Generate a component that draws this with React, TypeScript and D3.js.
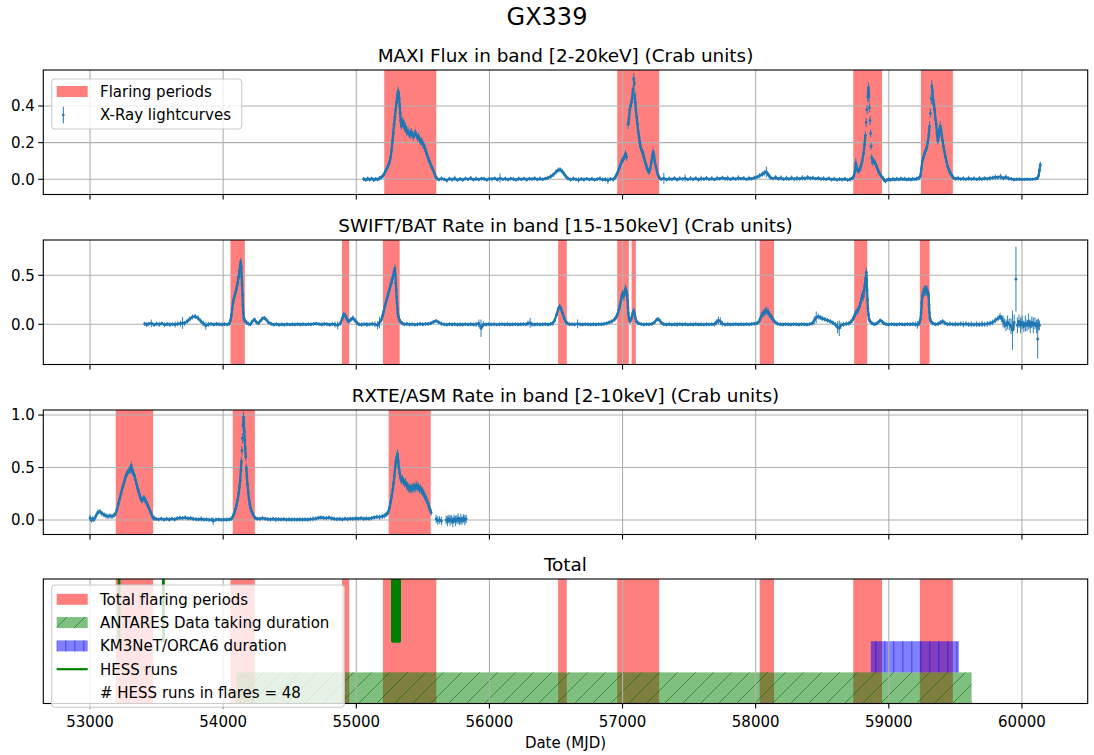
import React from "react";
import * as d3 from "d3";

// [MJD, value, error] samples of each X-ray light curve (Crab units)
type Pt = [number, number, number];
type Span = [number, number];

const MAXI: Pt[] = [
  [55055, 0.002, 0.01], [55070, -0.004, 0.01], [55085, 0.003, 0.012], [55100, -0.002, 0.01], [55115, 0.004, 0.01],
  [55130, -0.003, 0.012], [55145, 0.002, 0.01], [55160, -0.001, 0.01], [55175, 0.006, 0.012], [55190, 0.012, 0.012],
  [55200, 0.018, 0.012], [55210, 0.03, 0.012], [55220, 0.045, 0.014], [55230, 0.06, 0.014], [55240, 0.075, 0.015],
  [55250, 0.095, 0.015], [55258, 0.12, 0.016], [55265, 0.16, 0.018], [55272, 0.21, 0.02], [55278, 0.25, 0.02],
  [55284, 0.3, 0.02], [55290, 0.34, 0.022], [55296, 0.38, 0.022], [55302, 0.42, 0.025], [55308, 0.455, 0.025],
  [55314, 0.48, 0.025], [55318, 0.47, 0.025], [55322, 0.44, 0.025], [55326, 0.4, 0.022], [55330, 0.36, 0.022],
  [55334, 0.32, 0.022], [55338, 0.29, 0.02], [55344, 0.3, 0.02], [55350, 0.32, 0.02], [55356, 0.305, 0.02],
  [55362, 0.28, 0.02], [55368, 0.29, 0.02], [55374, 0.27, 0.02], [55380, 0.255, 0.02], [55388, 0.265, 0.02],
  [55396, 0.25, 0.02], [55404, 0.24, 0.02], [55412, 0.26, 0.02], [55420, 0.245, 0.02], [55428, 0.23, 0.02],
  [55436, 0.245, 0.02], [55444, 0.255, 0.02], [55452, 0.24, 0.02], [55460, 0.225, 0.02], [55468, 0.235, 0.02],
  [55476, 0.215, 0.02], [55484, 0.205, 0.02], [55492, 0.21, 0.02], [55500, 0.19, 0.02], [55508, 0.185, 0.018],
  [55516, 0.17, 0.018], [55524, 0.15, 0.018], [55532, 0.135, 0.018], [55540, 0.115, 0.016], [55548, 0.1, 0.016],
  [55556, 0.085, 0.016], [55564, 0.07, 0.015], [55572, 0.06, 0.015], [55580, 0.045, 0.014], [55588, 0.03, 0.013],
  [55596, 0.015, 0.012], [55605, 0.005, 0.012], [55620, -0.002, 0.01], [55640, 0.004, 0.012], [55660, 0.0, 0.01],
  [55680, -0.006, 0.012], [55700, 0.003, 0.01], [55720, -0.002, 0.012], [55740, 0.005, 0.015], [55760, -0.004, 0.01],
  [55780, 0.002, 0.01], [55800, -0.003, 0.012], [55820, 0.004, 0.01], [55840, 0.0, 0.01], [55860, 0.006, 0.012],
  [55880, -0.002, 0.01], [55900, 0.003, 0.012], [55920, -0.001, 0.01], [55940, 0.004, 0.01], [55960, 0.002, 0.012],
  [55980, -0.003, 0.01], [56000, 0.003, 0.01], [56020, 0.001, 0.012], [56040, 0.005, 0.01], [56060, -0.002, 0.012],
  [56080, 0.006, 0.025], [56100, 0.0, 0.01], [56120, 0.003, 0.012], [56140, -0.002, 0.01], [56160, 0.004, 0.01],
  [56180, 0.001, 0.012], [56200, -0.003, 0.01], [56220, 0.003, 0.012], [56240, 0.0, 0.01], [56260, 0.004, 0.01],
  [56280, -0.002, 0.012], [56300, 0.003, 0.01], [56320, 0.001, 0.01], [56340, 0.005, 0.012], [56360, -0.001, 0.01],
  [56380, 0.003, 0.012], [56400, 0.0, 0.01], [56420, 0.004, 0.01], [56440, 0.008, 0.012], [56460, 0.015, 0.012],
  [56480, 0.025, 0.012], [56500, 0.04, 0.014], [56515, 0.05, 0.014], [56530, 0.052, 0.014], [56545, 0.045, 0.014],
  [56560, 0.03, 0.012], [56575, 0.015, 0.012], [56590, 0.005, 0.01], [56610, -0.002, 0.01], [56630, 0.003, 0.012],
  [56650, 0.0, 0.01], [56670, -0.004, 0.015], [56690, 0.002, 0.01], [56710, -0.002, 0.012], [56730, 0.003, 0.01],
  [56750, -0.001, 0.01], [56770, 0.002, 0.012], [56790, -0.003, 0.01], [56810, 0.001, 0.01], [56830, 0.004, 0.012],
  [56850, -0.002, 0.01], [56870, 0.0, 0.012], [56890, -0.006, 0.018], [56910, 0.002, 0.01], [56930, -0.001, 0.012],
  [56945, 0.01, 0.012], [56955, 0.025, 0.014], [56965, 0.04, 0.015], [56975, 0.06, 0.016], [56985, 0.08, 0.016],
  [56995, 0.1, 0.018], [57005, 0.11, 0.018], [57015, 0.125, 0.018], [57022, 0.14, 0.02], [57030, 0.12, 0.02],
  [57042, 0.3, 0.025], [57048, 0.33, 0.025], [57054, 0.38, 0.025], [57060, 0.4, 0.025], [57066, 0.42, 0.025],
  [57072, 0.44, 0.025], [57078, 0.49, 0.025], [57084, 0.55, 0.03], [57088, 0.52, 0.03], [57092, 0.46, 0.025],
  [57096, 0.42, 0.025], [57100, 0.38, 0.025], [57106, 0.34, 0.022], [57112, 0.3, 0.022], [57118, 0.26, 0.02],
  [57124, 0.23, 0.02], [57130, 0.2, 0.02], [57136, 0.175, 0.02], [57142, 0.16, 0.018], [57148, 0.15, 0.018],
  [57154, 0.14, 0.018], [57160, 0.12, 0.018], [57168, 0.1, 0.016], [57176, 0.08, 0.016], [57184, 0.06, 0.015],
  [57192, 0.045, 0.015], [57200, 0.04, 0.015], [57208, 0.06, 0.015], [57216, 0.09, 0.016], [57224, 0.13, 0.018],
  [57230, 0.15, 0.018], [57236, 0.13, 0.018], [57242, 0.1, 0.016], [57250, 0.07, 0.015], [57258, 0.045, 0.014],
  [57266, 0.025, 0.012], [57275, 0.01, 0.012], [57290, 0.0, 0.01], [57310, 0.006, 0.03], [57330, -0.002, 0.01],
  [57350, 0.003, 0.012], [57370, 0.0, 0.01], [57390, 0.005, 0.012], [57410, -0.002, 0.01], [57430, 0.004, 0.012],
  [57450, 0.001, 0.01], [57470, 0.006, 0.02], [57490, -0.001, 0.01], [57510, 0.004, 0.012], [57530, 0.0, 0.01],
  [57550, 0.005, 0.012], [57570, -0.002, 0.01], [57590, 0.004, 0.015], [57610, 0.001, 0.01], [57630, 0.006, 0.012],
  [57650, 0.0, 0.01], [57670, 0.004, 0.012], [57690, -0.001, 0.01], [57710, 0.005, 0.015], [57730, 0.002, 0.01],
  [57750, 0.008, 0.012], [57770, 0.002, 0.01], [57790, 0.006, 0.015], [57810, 0.0, 0.01], [57830, 0.005, 0.012],
  [57850, 0.001, 0.01], [57870, 0.007, 0.015], [57890, 0.002, 0.01], [57910, 0.006, 0.012], [57930, 0.0, 0.01],
  [57950, 0.005, 0.015], [57970, 0.003, 0.01], [57990, 0.008, 0.012], [58010, 0.012, 0.012], [58030, 0.02, 0.014],
  [58050, 0.028, 0.014], [58065, 0.035, 0.016], [58080, 0.04, 0.03], [58095, 0.025, 0.014], [58110, 0.01, 0.012],
  [58130, 0.004, 0.01], [58150, 0.01, 0.014], [58170, 0.002, 0.01], [58190, 0.008, 0.014], [58210, 0.0, 0.01],
  [58230, 0.006, 0.014], [58250, 0.001, 0.01], [58270, 0.007, 0.014], [58290, 0.001, 0.01], [58310, 0.006, 0.014],
  [58330, 0.002, 0.01], [58350, 0.008, 0.014], [58370, 0.004, 0.012], [58390, 0.01, 0.014], [58410, 0.005, 0.012],
  [58430, 0.008, 0.012], [58450, 0.003, 0.01], [58470, 0.006, 0.012], [58490, 0.001, 0.01], [58510, 0.004, 0.012],
  [58530, 0.0, 0.01], [58550, 0.005, 0.012], [58570, -0.002, 0.01], [58590, 0.002, 0.012], [58610, -0.003, 0.01],
  [58630, 0.001, 0.012], [58650, -0.002, 0.01], [58670, 0.002, 0.012], [58690, -0.004, 0.01], [58710, 0.0, 0.012],
  [58725, 0.005, 0.012], [58735, 0.015, 0.014], [58745, 0.04, 0.02], [58752, 0.09, 0.025], [58760, 0.06, 0.02],
  [58770, 0.045, 0.016], [58780, 0.05, 0.016], [58790, 0.07, 0.018], [58800, 0.1, 0.02], [58810, 0.14, 0.02],
  [58818, 0.19, 0.022], [58824, 0.24, 0.022], [58830, 0.31, 0.025], [58836, 0.38, 0.025], [58842, 0.45, 0.03],
  [58847, 0.5, 0.03], [58851, 0.45, 0.03], [58855, 0.39, 0.025], [58859, 0.32, 0.025], [58863, 0.25, 0.022],
  [58867, 0.18, 0.02], [58872, 0.12, 0.018], [58878, 0.09, 0.016], [58885, 0.1, 0.016], [58892, 0.095, 0.016],
  [58900, 0.085, 0.016], [58908, 0.07, 0.015], [58916, 0.055, 0.014], [58924, 0.04, 0.014], [58932, 0.03, 0.012],
  [58942, 0.018, 0.012], [58955, 0.008, 0.012], [58965, -0.005, 0.012], [58975, -0.01, 0.012], [58985, -0.004, 0.01],
  [59000, 0.0, 0.012], [59015, -0.003, 0.01], [59030, 0.001, 0.012], [59045, -0.002, 0.01], [59060, 0.002, 0.012],
  [59075, -0.001, 0.01], [59090, 0.003, 0.012], [59105, 0.0, 0.01], [59120, 0.002, 0.012], [59135, -0.002, 0.01],
  [59150, 0.001, 0.012], [59165, -0.002, 0.01], [59180, 0.002, 0.012], [59195, 0.0, 0.01], [59210, 0.003, 0.012],
  [59225, 0.006, 0.012], [59238, 0.02, 0.014], [59245, 0.06, 0.016], [59252, 0.1, 0.018], [59260, 0.12, 0.018],
  [59268, 0.14, 0.02], [59276, 0.155, 0.02], [59284, 0.17, 0.02], [59292, 0.2, 0.022], [59300, 0.24, 0.022],
  [59306, 0.29, 0.025], [59312, 0.36, 0.025], [59318, 0.44, 0.03], [59323, 0.51, 0.03], [59328, 0.48, 0.03],
  [59333, 0.43, 0.028], [59338, 0.41, 0.028], [59344, 0.38, 0.025], [59350, 0.33, 0.025], [59356, 0.3, 0.025],
  [59362, 0.25, 0.022], [59368, 0.21, 0.022], [59374, 0.23, 0.022], [59380, 0.27, 0.022], [59386, 0.29, 0.025],
  [59392, 0.27, 0.022], [59398, 0.24, 0.022], [59404, 0.21, 0.022], [59410, 0.18, 0.02], [59418, 0.15, 0.02],
  [59426, 0.12, 0.018], [59434, 0.095, 0.016], [59442, 0.07, 0.016], [59450, 0.055, 0.015], [59458, 0.04, 0.014],
  [59466, 0.03, 0.012], [59474, 0.02, 0.012], [59484, 0.01, 0.012], [59500, 0.002, 0.01], [59520, 0.006, 0.014],
  [59540, 0.001, 0.01], [59560, 0.004, 0.012], [59580, 0.0, 0.01], [59600, 0.005, 0.014], [59620, 0.001, 0.01],
  [59640, 0.004, 0.012], [59660, 0.0, 0.01], [59680, 0.004, 0.014], [59700, 0.001, 0.01], [59720, 0.005, 0.012],
  [59740, 0.002, 0.01], [59760, 0.006, 0.014], [59780, 0.008, 0.012], [59800, 0.012, 0.014], [59820, 0.01, 0.012],
  [59840, 0.014, 0.016], [59860, 0.006, 0.012], [59880, 0.012, 0.014], [59900, 0.004, 0.012], [59920, 0.002, 0.01],
  [59940, -0.002, 0.01], [59960, 0.0, 0.01], [59980, 0.001, 0.01], [60000, -0.001, 0.008], [60020, 0.0, 0.008],
  [60040, 0.001, 0.008], [60060, 0.0, 0.008], [60080, 0.001, 0.008], [60100, 0.002, 0.008], [60115, 0.005, 0.01],
  [60125, 0.02, 0.012], [60132, 0.05, 0.014], [60138, 0.08, 0.016],
];

const SWIFT: Pt[] = [
  [53410, 0.005, 0.02], [53425, -0.005, 0.025], [53440, 0.004, 0.02], [53460, 0.01, 0.04], [53480, -0.005, 0.02],
  [53500, 0.005, 0.02], [53520, 0.0, 0.025], [53540, 0.008, 0.02], [53560, -0.004, 0.025], [53580, 0.003, 0.02],
  [53600, -0.003, 0.025], [53620, 0.002, 0.02], [53640, -0.002, 0.03], [53660, 0.004, 0.025], [53680, 0.006, 0.03],
  [53695, 0.015, 0.06], [53710, 0.01, 0.025], [53730, 0.03, 0.025], [53750, 0.055, 0.025], [53770, 0.075, 0.025],
  [53790, 0.08, 0.025], [53810, 0.065, 0.025], [53830, 0.035, 0.025], [53850, 0.01, 0.03], [53870, -0.015, 0.04],
  [53890, 0.0, 0.025], [53910, 0.004, 0.02], [53930, -0.002, 0.02], [53950, 0.003, 0.02], [53970, 0.0, 0.02],
  [53990, -0.002, 0.02], [54010, 0.002, 0.02], [54030, -0.001, 0.02], [54045, 0.004, 0.02], [54055, 0.04, 0.025],
  [54062, 0.09, 0.03], [54068, 0.16, 0.03], [54074, 0.22, 0.03], [54080, 0.26, 0.03], [54086, 0.29, 0.03],
  [54092, 0.32, 0.03], [54098, 0.35, 0.03], [54104, 0.39, 0.035], [54110, 0.43, 0.035], [54116, 0.48, 0.035],
  [54122, 0.54, 0.04], [54128, 0.6, 0.04], [54132, 0.64, 0.04], [54136, 0.58, 0.035], [54139, 0.49, 0.035],
  [54142, 0.4, 0.03], [54145, 0.3, 0.03], [54148, 0.2, 0.03], [54151, 0.12, 0.03], [54155, 0.06, 0.03],
  [54162, 0.04, 0.03], [54175, 0.02, 0.025], [54190, 0.005, 0.02], [54205, 0.0, 0.02], [54220, 0.03, 0.02],
  [54235, 0.05, 0.02], [54250, 0.02, 0.02], [54265, 0.01, 0.02], [54280, 0.035, 0.02], [54295, 0.06, 0.02],
  [54310, 0.065, 0.02], [54325, 0.045, 0.02], [54340, 0.02, 0.02], [54360, 0.005, 0.02], [54380, -0.004, 0.02],
  [54400, 0.002, 0.02], [54420, -0.006, 0.02], [54440, 0.0, 0.02], [54460, -0.004, 0.02], [54480, 0.001, 0.02],
  [54500, -0.003, 0.02], [54520, 0.0, 0.02], [54540, -0.002, 0.02], [54560, 0.002, 0.02], [54580, -0.002, 0.02],
  [54600, 0.001, 0.02], [54620, -0.003, 0.02], [54640, 0.002, 0.02], [54660, 0.0, 0.02], [54680, 0.004, 0.02],
  [54700, 0.006, 0.02], [54720, 0.002, 0.02], [54740, -0.002, 0.02], [54760, 0.003, 0.02], [54780, 0.001, 0.02],
  [54800, -0.004, 0.02], [54820, 0.002, 0.02], [54840, -0.002, 0.03], [54860, -0.01, 0.04], [54880, 0.01, 0.025],
  [54895, 0.06, 0.025], [54905, 0.1, 0.025], [54915, 0.095, 0.025], [54925, 0.07, 0.025], [54935, 0.04, 0.025],
  [54945, 0.03, 0.025], [54960, 0.05, 0.025], [54975, 0.065, 0.025], [54990, 0.04, 0.025], [55005, 0.015, 0.025],
  [55020, 0.0, 0.02], [55040, -0.003, 0.025], [55060, 0.002, 0.02], [55080, -0.002, 0.025], [55100, 0.0, 0.02],
  [55120, 0.004, 0.025], [55140, 0.0, 0.03], [55160, -0.01, 0.04], [55175, 0.02, 0.06], [55190, 0.05, 0.03],
  [55198, 0.09, 0.03], [55206, 0.13, 0.03], [55214, 0.18, 0.03], [55222, 0.22, 0.035], [55230, 0.26, 0.035],
  [55238, 0.3, 0.035], [55246, 0.34, 0.035], [55254, 0.38, 0.035], [55262, 0.42, 0.04], [55270, 0.46, 0.04],
  [55278, 0.5, 0.04], [55285, 0.54, 0.04], [55290, 0.57, 0.04], [55294, 0.5, 0.035], [55297, 0.42, 0.035],
  [55300, 0.35, 0.035], [55303, 0.28, 0.03], [55306, 0.22, 0.03], [55309, 0.16, 0.03], [55312, 0.11, 0.03],
  [55316, 0.08, 0.03], [55322, 0.05, 0.025], [55330, 0.03, 0.025], [55345, 0.01, 0.02], [55360, 0.0, 0.02],
  [55380, 0.004, 0.02], [55400, -0.002, 0.02], [55420, 0.002, 0.02], [55440, -0.004, 0.02], [55460, 0.0, 0.02],
  [55480, 0.004, 0.02], [55500, 0.0, 0.02], [55520, 0.004, 0.02], [55540, 0.004, 0.02], [55560, 0.01, 0.02],
  [55580, 0.025, 0.02], [55600, 0.035, 0.02], [55620, 0.02, 0.02], [55640, 0.005, 0.02], [55660, 0.0, 0.02],
  [55680, -0.003, 0.02], [55700, 0.002, 0.02], [55720, -0.002, 0.02], [55740, 0.001, 0.02], [55760, -0.004, 0.02],
  [55780, 0.0, 0.02], [55800, -0.002, 0.02], [55820, 0.002, 0.02], [55840, -0.003, 0.02], [55860, 0.001, 0.02],
  [55880, -0.002, 0.02], [55900, 0.0, 0.025], [55920, 0.01, 0.04], [55937, -0.04, 0.09], [55955, 0.0, 0.03],
  [55975, -0.002, 0.02], [55995, 0.002, 0.02], [56015, -0.002, 0.02], [56035, 0.001, 0.02], [56055, -0.003, 0.02],
  [56075, 0.0, 0.02], [56095, 0.002, 0.02], [56115, -0.002, 0.02], [56135, 0.001, 0.02], [56155, -0.002, 0.02],
  [56175, 0.0, 0.02], [56195, 0.002, 0.02], [56215, -0.002, 0.02], [56235, 0.0, 0.02], [56255, 0.002, 0.02],
  [56275, 0.0, 0.02], [56290, 0.01, 0.03], [56306, 0.015, 0.05], [56320, 0.0, 0.025], [56340, -0.002, 0.02],
  [56360, 0.001, 0.02], [56380, -0.002, 0.02], [56400, 0.0, 0.02], [56420, 0.002, 0.02], [56440, -0.002, 0.02],
  [56460, 0.004, 0.02], [56475, 0.01, 0.025], [56490, 0.04, 0.025], [56505, 0.1, 0.025], [56518, 0.16, 0.03],
  [56528, 0.18, 0.03], [56538, 0.16, 0.03], [56548, 0.12, 0.025], [56560, 0.07, 0.025], [56572, 0.03, 0.025],
  [56585, 0.01, 0.02], [56600, 0.0, 0.02], [56620, 0.002, 0.02], [56640, -0.002, 0.02], [56662, 0.005, 0.045],
  [56680, 0.0, 0.02], [56700, -0.002, 0.02], [56720, 0.002, 0.02], [56740, 0.0, 0.02], [56760, -0.002, 0.02],
  [56780, 0.001, 0.02], [56800, -0.002, 0.02], [56820, 0.002, 0.02], [56840, 0.0, 0.02], [56860, 0.004, 0.02],
  [56880, 0.01, 0.02], [56900, 0.02, 0.02], [56920, 0.03, 0.025], [56940, 0.05, 0.025], [56955, 0.08, 0.03],
  [56965, 0.11, 0.03], [56972, 0.15, 0.035], [56980, 0.19, 0.04], [56988, 0.24, 0.04], [56995, 0.29, 0.045],
  [57002, 0.31, 0.045], [57010, 0.29, 0.045], [57016, 0.33, 0.045], [57022, 0.36, 0.045], [57028, 0.34, 0.045],
  [57034, 0.3, 0.04], [57038, 0.24, 0.035], [57041, 0.17, 0.035], [57044, 0.11, 0.03], [57048, 0.06, 0.03],
  [57056, 0.03, 0.025], [57066, 0.06, 0.03], [57076, 0.11, 0.03], [57085, 0.14, 0.03], [57094, 0.08, 0.03],
  [57104, 0.03, 0.025], [57120, 0.01, 0.02], [57140, 0.002, 0.02], [57160, -0.002, 0.02], [57180, 0.002, 0.02],
  [57200, 0.0, 0.02], [57220, 0.004, 0.02], [57240, 0.02, 0.02], [57255, 0.045, 0.02], [57265, 0.055, 0.02],
  [57278, 0.04, 0.02], [57292, 0.015, 0.02], [57310, 0.0, 0.02], [57330, -0.002, 0.02], [57350, 0.002, 0.02],
  [57370, -0.003, 0.02], [57390, 0.0, 0.02], [57410, -0.002, 0.025], [57430, 0.002, 0.02], [57450, -0.002, 0.02],
  [57470, 0.001, 0.02], [57490, -0.003, 0.02], [57510, 0.0, 0.02], [57530, -0.002, 0.02], [57550, 0.001, 0.02],
  [57570, -0.002, 0.02], [57590, 0.0, 0.02], [57610, -0.003, 0.02], [57630, 0.001, 0.02], [57650, -0.001, 0.02],
  [57670, 0.002, 0.02], [57690, 0.0, 0.025], [57705, 0.02, 0.03], [57720, 0.04, 0.04], [57735, 0.03, 0.04],
  [57750, 0.005, 0.025], [57770, -0.002, 0.02], [57790, 0.001, 0.02], [57810, -0.002, 0.02], [57830, 0.0, 0.02],
  [57850, 0.002, 0.02], [57870, -0.002, 0.02], [57890, 0.001, 0.02], [57910, -0.001, 0.02], [57930, 0.002, 0.02],
  [57950, 0.0, 0.02], [57970, 0.003, 0.02], [57990, 0.006, 0.02], [58010, 0.01, 0.02], [58025, 0.03, 0.025],
  [58035, 0.06, 0.03], [58045, 0.09, 0.035], [58055, 0.11, 0.035], [58065, 0.12, 0.04], [58075, 0.14, 0.04],
  [58085, 0.135, 0.04], [58095, 0.12, 0.04], [58105, 0.1, 0.035], [58115, 0.08, 0.03], [58125, 0.06, 0.03],
  [58135, 0.04, 0.025], [58148, 0.02, 0.02], [58165, 0.005, 0.02], [58185, 0.0, 0.02], [58205, -0.002, 0.02],
  [58225, 0.002, 0.02], [58245, 0.0, 0.02], [58265, -0.002, 0.02], [58285, 0.002, 0.02], [58305, 0.0, 0.02],
  [58325, -0.002, 0.02], [58345, 0.002, 0.02], [58365, 0.0, 0.02], [58385, -0.002, 0.02], [58405, 0.002, 0.02],
  [58425, 0.01, 0.025], [58440, 0.04, 0.04], [58455, 0.07, 0.06], [58470, 0.08, 0.03], [58485, 0.07, 0.025],
  [58500, 0.06, 0.025], [58520, 0.05, 0.025], [58540, 0.04, 0.025], [58560, 0.03, 0.025], [58580, 0.015, 0.025],
  [58600, -0.005, 0.025], [58615, -0.03, 0.06], [58628, -0.04, 0.08], [58640, -0.01, 0.03], [58660, 0.0, 0.025],
  [58680, 0.004, 0.025], [58700, 0.01, 0.025], [58715, 0.025, 0.025], [58728, 0.045, 0.03], [58740, 0.08, 0.03],
  [58750, 0.11, 0.035], [58760, 0.13, 0.035], [58770, 0.15, 0.04], [58780, 0.18, 0.04], [58788, 0.22, 0.045],
  [58795, 0.26, 0.045], [58802, 0.3, 0.045], [58808, 0.28, 0.045], [58814, 0.34, 0.05], [58820, 0.4, 0.05],
  [58826, 0.47, 0.05], [58831, 0.53, 0.05], [58834, 0.45, 0.045], [58837, 0.35, 0.04], [58840, 0.25, 0.04],
  [58843, 0.16, 0.035], [58847, 0.1, 0.03], [58852, 0.05, 0.025], [58860, 0.03, 0.02], [58875, 0.01, 0.02],
  [58890, 0.0, 0.02], [58905, 0.005, 0.02], [58920, 0.02, 0.02], [58935, 0.04, 0.02], [58948, 0.03, 0.02],
  [58962, 0.01, 0.02], [58980, 0.0, 0.02], [59000, -0.002, 0.02], [59020, 0.002, 0.02], [59040, 0.0, 0.02],
  [59060, -0.002, 0.02], [59080, 0.002, 0.02], [59100, 0.0, 0.02], [59120, -0.002, 0.02], [59140, 0.002, 0.02],
  [59160, 0.0, 0.02], [59180, 0.003, 0.02], [59200, 0.0, 0.025], [59215, -0.005, 0.04], [59228, 0.01, 0.03],
  [59238, 0.05, 0.035], [59243, 0.12, 0.04], [59248, 0.22, 0.045], [59252, 0.29, 0.045], [59258, 0.32, 0.05],
  [59265, 0.34, 0.05], [59272, 0.35, 0.05], [59279, 0.34, 0.05], [59286, 0.35, 0.05], [59293, 0.33, 0.05],
  [59299, 0.3, 0.045], [59302, 0.2, 0.04], [59305, 0.12, 0.035], [59309, 0.06, 0.03], [59316, 0.03, 0.025],
  [59330, 0.01, 0.02], [59350, 0.0, 0.02], [59370, 0.004, 0.025], [59390, 0.02, 0.025], [59405, 0.03, 0.025],
  [59420, 0.015, 0.025], [59440, 0.0, 0.02], [59460, 0.004, 0.025], [59480, 0.0, 0.02], [59500, 0.002, 0.025],
  [59520, 0.0, 0.02], [59540, 0.004, 0.025], [59560, 0.0, 0.03], [59580, 0.005, 0.025], [59600, -0.002, 0.025],
  [59620, 0.001, 0.03], [59640, -0.003, 0.025], [59660, 0.002, 0.03], [59680, -0.002, 0.025], [59700, 0.003, 0.03],
  [59720, 0.0, 0.025], [59740, 0.005, 0.03], [59760, 0.01, 0.03], [59780, 0.02, 0.03], [59800, 0.04, 0.03],
  [59820, 0.06, 0.03], [59835, 0.08, 0.035], [59848, 0.06, 0.035], [59858, 0.03, 0.06], [59868, 0.01, 0.05],
  [59880, -0.01, 0.06], [59892, 0.02, 0.07], [59905, 0.0, 0.06], [59918, -0.02, 0.08], [59929, -0.06, 0.2],
  [59942, 0.02, 0.08], [59955, 0.46, 0.33], [59966, -0.01, 0.08], [59978, 0.03, 0.07], [59990, -0.01, 0.08],
  [60002, 0.02, 0.07], [60014, -0.02, 0.06], [60026, 0.01, 0.08], [60038, -0.01, 0.06], [60050, 0.03, 0.08],
  [60062, -0.02, 0.07], [60074, 0.02, 0.06], [60086, -0.01, 0.08], [60098, 0.01, 0.06], [60110, -0.02, 0.07],
  [60118, -0.15, 0.2], [60124, 0.0, 0.06], [60132, -0.01, 0.05],
];

const RXTE: Pt[] = [
  [53000, 0.02, 0.03], [53010, 0.0, 0.025], [53020, 0.01, 0.025], [53030, 0.005, 0.025], [53045, 0.04, 0.025],
  [53060, 0.075, 0.025], [53075, 0.08, 0.025], [53090, 0.06, 0.025], [53105, 0.05, 0.025], [53120, 0.04, 0.025],
  [53135, 0.035, 0.025], [53150, 0.04, 0.025], [53165, 0.035, 0.025], [53180, 0.045, 0.025], [53192, 0.06, 0.025],
  [53202, 0.1, 0.025], [53212, 0.15, 0.03], [53222, 0.2, 0.03], [53232, 0.25, 0.03], [53242, 0.3, 0.03],
  [53252, 0.34, 0.035], [53262, 0.39, 0.035], [53272, 0.43, 0.035], [53282, 0.45, 0.035], [53292, 0.47, 0.035],
  [53302, 0.48, 0.04], [53310, 0.52, 0.04], [53318, 0.46, 0.035], [53326, 0.45, 0.035], [53334, 0.42, 0.035],
  [53342, 0.38, 0.035], [53350, 0.34, 0.035], [53358, 0.3, 0.03], [53366, 0.27, 0.03], [53374, 0.23, 0.03],
  [53382, 0.2, 0.03], [53390, 0.19, 0.03], [53398, 0.2, 0.03], [53406, 0.21, 0.03], [53414, 0.19, 0.03],
  [53422, 0.17, 0.03], [53430, 0.15, 0.03], [53440, 0.12, 0.03], [53450, 0.09, 0.025], [53460, 0.06, 0.025],
  [53470, 0.03, 0.025], [53482, 0.015, 0.025], [53495, 0.01, 0.02], [53515, 0.005, 0.02], [53535, 0.012, 0.02],
  [53555, 0.003, 0.02], [53575, 0.01, 0.02], [53595, 0.004, 0.02], [53615, 0.012, 0.02], [53635, 0.006, 0.02],
  [53655, 0.015, 0.02], [53675, 0.02, 0.02], [53695, 0.018, 0.02], [53715, 0.022, 0.02], [53735, 0.015, 0.02],
  [53755, 0.018, 0.02], [53775, 0.01, 0.02], [53795, 0.008, 0.02], [53815, 0.005, 0.02], [53835, 0.01, 0.025],
  [53855, 0.004, 0.02], [53875, 0.006, 0.02], [53895, 0.002, 0.02], [53915, 0.004, 0.02], [53925, -0.01, 0.035],
  [53945, 0.003, 0.02], [53965, 0.005, 0.02], [53985, 0.002, 0.02], [54005, 0.004, 0.02], [54025, 0.003, 0.02],
  [54045, 0.005, 0.02], [54060, 0.01, 0.02], [54072, 0.03, 0.025], [54082, 0.06, 0.025], [54092, 0.1, 0.03],
  [54100, 0.14, 0.03], [54108, 0.19, 0.03], [54116, 0.25, 0.035], [54122, 0.31, 0.035], [54128, 0.38, 0.04],
  [54133, 0.47, 0.04], [54137, 0.56, 0.045], [54141, 0.66, 0.045], [54145, 0.78, 0.05], [54149, 0.9, 0.05],
  [54153, 0.98, 0.05], [54156, 0.92, 0.05], [54159, 0.84, 0.045], [54162, 0.76, 0.045], [54166, 0.68, 0.045],
  [54170, 0.6, 0.04], [54174, 0.5, 0.04], [54178, 0.42, 0.04], [54183, 0.34, 0.035], [54188, 0.27, 0.035],
  [54194, 0.2, 0.03], [54200, 0.15, 0.03], [54207, 0.11, 0.03], [54214, 0.08, 0.025], [54222, 0.06, 0.025],
  [54230, 0.04, 0.025], [54240, 0.02, 0.02], [54255, 0.012, 0.02], [54275, 0.01, 0.02], [54295, 0.018, 0.02],
  [54315, 0.012, 0.02], [54335, 0.008, 0.02], [54355, 0.006, 0.02], [54375, 0.01, 0.02], [54395, 0.004, 0.025],
  [54415, 0.008, 0.02], [54435, 0.005, 0.02], [54455, 0.009, 0.02], [54475, 0.004, 0.02], [54495, 0.006, 0.02],
  [54515, 0.003, 0.02], [54535, 0.007, 0.02], [54555, 0.004, 0.02], [54575, 0.006, 0.02], [54595, 0.003, 0.02],
  [54615, 0.007, 0.02], [54635, 0.004, 0.02], [54655, 0.008, 0.02], [54675, 0.01, 0.025], [54695, 0.014, 0.02],
  [54715, 0.02, 0.02], [54735, 0.024, 0.02], [54755, 0.02, 0.02], [54775, 0.018, 0.02], [54795, 0.022, 0.02],
  [54815, 0.015, 0.02], [54835, 0.01, 0.02], [54855, 0.008, 0.02], [54875, 0.01, 0.02], [54895, 0.006, 0.02],
  [54915, 0.012, 0.02], [54935, 0.008, 0.02], [54955, 0.014, 0.02], [54975, 0.01, 0.02], [54995, 0.015, 0.02],
  [55015, 0.012, 0.02], [55035, 0.018, 0.02], [55055, 0.01, 0.02], [55075, 0.015, 0.02], [55095, 0.012, 0.02],
  [55115, 0.018, 0.02], [55135, 0.025, 0.02], [55155, 0.03, 0.02], [55175, 0.028, 0.025], [55195, 0.035, 0.025],
  [55210, 0.04, 0.025], [55222, 0.05, 0.025], [55232, 0.06, 0.025], [55242, 0.08, 0.03], [55250, 0.12, 0.03],
  [55258, 0.17, 0.03], [55266, 0.23, 0.035], [55274, 0.29, 0.035], [55280, 0.35, 0.04], [55286, 0.42, 0.04],
  [55292, 0.5, 0.045], [55298, 0.56, 0.045], [55304, 0.6, 0.045], [55310, 0.63, 0.045], [55315, 0.56, 0.045],
  [55320, 0.5, 0.04], [55326, 0.45, 0.04], [55332, 0.4, 0.04], [55338, 0.38, 0.04], [55346, 0.39, 0.04],
  [55354, 0.37, 0.04], [55362, 0.35, 0.04], [55370, 0.36, 0.04], [55378, 0.33, 0.04], [55386, 0.32, 0.04],
  [55394, 0.3, 0.04], [55402, 0.31, 0.04], [55410, 0.29, 0.04], [55418, 0.31, 0.04], [55426, 0.3, 0.04],
  [55434, 0.32, 0.04], [55442, 0.3, 0.04], [55450, 0.33, 0.04], [55458, 0.31, 0.04], [55466, 0.32, 0.04],
  [55474, 0.29, 0.04], [55482, 0.3, 0.04], [55490, 0.28, 0.04], [55498, 0.27, 0.04], [55506, 0.25, 0.04],
  [55514, 0.23, 0.04], [55522, 0.21, 0.035], [55530, 0.19, 0.035], [55538, 0.16, 0.035], [55546, 0.13, 0.035],
  [55554, 0.1, 0.03], [55562, 0.07, 0.03], [55600, 0.01, 0.04], [55612, -0.005, 0.04], [55625, 0.0, 0.035],
  [55640, -0.01, 0.04], [55675, 0.0, 0.04], [55685, -0.01, 0.05], [55695, 0.01, 0.04], [55705, -0.005, 0.05],
  [55715, 0.005, 0.04], [55725, -0.02, 0.05], [55735, 0.01, 0.04], [55745, -0.01, 0.05], [55755, 0.005, 0.04],
  [55765, 0.015, 0.05], [55775, -0.01, 0.04], [55785, 0.01, 0.05], [55795, -0.005, 0.04], [55805, 0.015, 0.04],
  [55815, 0.0, 0.05], [55825, 0.01, 0.04],
];

// Flaring periods found in each instrument [start, end] (MJD)
const MAXI_FLARES: Span[] = [[55210, 55601], [56960, 57275], [58733, 58949], [59241, 59481]];
const SWIFT_FLARES: Span[] = [
  [54055, 54163], [54892, 54947], [55200, 55326], [56516, 56581], [56960, 57047],
  [57068, 57100], [58030, 58138], [58740, 58838], [59233, 59306],
];
const RXTE_FLARES: Span[] = [[53193, 53474], [54072, 54238], [55243, 55559]];

// Neutrino / gamma observation coverage
const ANTARES_PERIOD: Span = [54100, 59622];
const ORCA6_PERIOD: Span = [58865, 59526];
const HESS_RUNS: number[] = [
  53216, 53220, 53549, 53553,
  55270, 55271, 55272, 55273, 55275, 55276, 55277, 55279, 55280, 55281, 55283, 55284, 55285, 55287, 55288, 55289,
  55291, 55292, 55293, 55295, 55296, 55297, 55299, 55300, 55301, 55303, 55304, 55305, 55307, 55308, 55309, 55311,
  55312, 55313, 55315, 55316, 55317, 55319, 55320, 55321, 55322, 55323, 55324, 55325, 55326, 55327,
];

const X_TICKS = [53000, 54000, 55000, 56000, 57000, 58000, 59000, 60000];
const MAXI_Y_TICKS = [0.0, 0.2, 0.4];
const SWIFT_Y_TICKS = [0.0, 0.5];
const RXTE_Y_TICKS = [0.0, 0.5, 1.0];

// ---------------------------------------------------------------------------

const C0 = "#1f77b4";
const FONT = "DejaVu Sans, Verdana, sans-serif";
const W = 1094;
const H = 755;
const LEFT = 43.3;
const RIGHT = 1087.7;
const PANEL_H = 124.5;
const TICK_FS = 15;
const TITLE_FS = 18.4;

const x = d3.scaleLinear().domain([52649, 60494]).range([LEFT, RIGHT]);

function unionSpans(lists: Span[][]): Span[] {
  const all = lists.flat().map((s) => [s[0], s[1]] as Span).sort((a, b) => a[0] - b[0]);
  const out: Span[] = [];
  for (const s of all) {
    const last = out[out.length - 1];
    if (last && s[0] <= last[1]) last[1] = Math.max(last[1], s[1]);
    else out.push(s);
  }
  return out;
}

const TOTAL_FLARES = unionSpans([MAXI_FLARES, SWIFT_FLARES, RXTE_FLARES]);
const HESS_IN_FLARES = HESS_RUNS.filter((t) => TOTAL_FLARES.some(([a, b]) => t >= a && t <= b)).length;

function Curve({ data, y }: { data: Pt[]; y: d3.ScaleLinear<number, number> }) {
  // break the trace at data gaps and at steep jumps, where only the points show
  const segs: Pt[][] = [];
  let cur: Pt[] = [];
  data.forEach((p, i) => {
    if (i > 0) {
      const q = data[i - 1];
      if (p[0] - q[0] > 30 || Math.abs(y(p[1]) - y(q[1])) > 10) {
        segs.push(cur);
        cur = [];
      }
    }
    cur.push(p);
  });
  segs.push(cur);
  const line = d3.line<Pt>().x((d) => x(d[0])).y((d) => y(d[1]));
  const errPath = data
    .map((d) => `M${x(d[0]).toFixed(2)},${y(d[1] - d[2]).toFixed(2)}V${y(d[1] + d[2]).toFixed(2)}`)
    .join("");
  return (
    <g>
      <path d={errPath} stroke={C0} strokeWidth={1.1} strokeOpacity={0.85} fill="none" />
      {segs.filter((s) => s.length > 1).map((s, i) => (
        <path key={i} d={line(s) || ""} stroke={C0} strokeWidth={2.3} fill="none" strokeLinejoin="round" />
      ))}
      {data.map((d, i) => (
        <circle key={i} cx={x(d[0])} cy={y(d[1])} r={1.4} fill={C0} />
      ))}
    </g>
  );
}

function XAxis({ top, labels }: { top: number; labels: boolean }) {
  const bottom = top + PANEL_H;
  return (
    <g>
      {X_TICKS.map((t) => (
        <g key={t}>
          <line x1={x(t)} x2={x(t)} y1={bottom} y2={bottom + 5} stroke="#000" strokeWidth={1.1} />
          {labels && (
            <text x={x(t)} y={bottom + 23} textAnchor="middle" fontSize={TICK_FS} fontFamily={FONT} fill="#000">
              {t}
            </text>
          )}
        </g>
      ))}
    </g>
  );
}

function Frame({ top }: { top: number }) {
  return <rect x={LEFT} y={top} width={RIGHT - LEFT} height={PANEL_H} fill="none" stroke="#000" strokeWidth={1.1} />;
}

function LightPanel(props: {
  id: string;
  top: number;
  title: string;
  data: Pt[];
  flares: Span[];
  yDomain: [number, number];
  yTicks: number[];
  yFormat: string;
  children?: React.ReactNode;
}) {
  const { id, top, title, data, flares, yDomain, yTicks, yFormat, children } = props;
  const y = d3.scaleLinear().domain(yDomain).range([top + PANEL_H, top]);
  const fmt = d3.format(yFormat);
  return (
    <g>
      <defs>
        <clipPath id={id}>
          <rect x={LEFT} y={top} width={RIGHT - LEFT} height={PANEL_H} />
        </clipPath>
      </defs>
      <text x={(LEFT + RIGHT) / 2} y={top - 8.3} textAnchor="middle" fontSize={TITLE_FS} fontFamily={FONT} fill="#000">
        {title}
      </text>
      <g clipPath={`url(#${id})`}>
        {flares.map(([a, b], i) => (
          <rect key={i} x={x(a)} y={top} width={x(b) - x(a)} height={PANEL_H} fill="#ff0000" fillOpacity={0.5} />
        ))}
        {X_TICKS.map((t) => (
          <line key={t} x1={x(t)} x2={x(t)} y1={top} y2={top + PANEL_H} stroke="#b0b0b0" strokeWidth={1.1} />
        ))}
        {yTicks.map((t) => (
          <line key={t} x1={LEFT} x2={RIGHT} y1={y(t)} y2={y(t)} stroke="#b0b0b0" strokeWidth={1.1} />
        ))}
        <Curve data={data} y={y} />
      </g>
      <Frame top={top} />
      {yTicks.map((t) => (
        <g key={t}>
          <line x1={LEFT - 5} x2={LEFT} y1={y(t)} y2={y(t)} stroke="#000" strokeWidth={1.1} />
          <text x={LEFT - 8.5} y={y(t) + 5.4} textAnchor="end" fontSize={TICK_FS} fontFamily={FONT} fill="#000">
            {fmt(t)}
          </text>
        </g>
      ))}
      <XAxis top={top} labels={false} />
      {children}
    </g>
  );
}

function LegendBox({ x0, y0, w, h }: { x0: number; y0: number; w: number; h: number }) {
  return (
    <rect x={x0} y={y0} width={w} height={h} rx={3.5} fill="#fff" fillOpacity={0.8} stroke="#cccccc" strokeWidth={1.1} />
  );
}

function LegendText({ y, children }: { y: number; children: React.ReactNode }) {
  return (
    <text x={100} y={y + 5.4} fontSize={TICK_FS} fontFamily={FONT} fill="#000">
      {children}
    </text>
  );
}

export default function App() {
  const tops = [70, 240, 410, 579];
  const totTop = tops[3];
  const yTot = d3.scaleLinear().domain([0, 4]).range([totTop + PANEL_H, totTop]);
  const rows = [599.3, 622.6, 645.9, 669.2, 692.5];
  const hx = 56.7;
  const hw = 31;

  return (
    <svg
      width={W}
      height={H}
      viewBox={`0 0 ${W} ${H}`}
      style={{ position: "absolute", left: 0, top: 0, background: "#fff" }}
    >
      <defs>
        <pattern id="hatchDiag" patternUnits="userSpaceOnUse" width={18} height={18}>
          <path d="M0,18L18,0M-4.5,4.5L4.5,-4.5M13.5,22.5L22.5,13.5" stroke="#006400" strokeOpacity={0.55} strokeWidth={1} />
        </pattern>
        <pattern id="hatchVert" patternUnits="userSpaceOnUse" width={9} height={9} x={x(ORCA6_PERIOD[0]) + 4.5}>
          <path d="M0,0V9" stroke="#0000c8" strokeOpacity={0.6} strokeWidth={1.6} />
        </pattern>
        <clipPath id="clipTot">
          <rect x={LEFT} y={totTop} width={RIGHT - LEFT} height={PANEL_H} />
        </clipPath>
      </defs>
      <rect x={0} y={0} width={W} height={H} fill="#fff" />

      <text x={W / 2} y={25} textAnchor="middle" fontSize={24} fontFamily={FONT} fill="#000">
        GX339
      </text>

      <LightPanel
        id="clipMaxi"
        top={tops[0]}
        title="MAXI Flux in band [2-20keV] (Crab units)"
        data={MAXI}
        flares={MAXI_FLARES}
        yDomain={[-0.083, 0.5965]}
        yTicks={MAXI_Y_TICKS}
        yFormat=".1f"
      >
        <LegendBox x0={51.7} y0={79} w={190} h={50} />
        <rect x={hx} y={86} width={hw} height={11} fill="#ff0000" fillOpacity={0.5} />
        <LegendText y={91.7}>Flaring periods</LegendText>
        <line x1={63.3} x2={63.3} y1={106.7} y2={123.3} stroke={C0} strokeWidth={1} />
        <circle cx={63.3} cy={115} r={1.3} fill={C0} />
        <LegendText y={115}>X-Ray lightcurves</LegendText>
      </LightPanel>

      <LightPanel
        id="clipSwift"
        top={tops[1]}
        title="SWIFT/BAT Rate in band [15-150keV] (Crab units)"
        data={SWIFT}
        flares={SWIFT_FLARES}
        yDomain={[-0.41, 0.86]}
        yTicks={SWIFT_Y_TICKS}
        yFormat=".1f"
      />

      <LightPanel
        id="clipRxte"
        top={tops[2]}
        title="RXTE/ASM Rate in band [2-10keV] (Crab units)"
        data={RXTE}
        flares={RXTE_FLARES}
        yDomain={[-0.138, 1.048]}
        yTicks={RXTE_Y_TICKS}
        yFormat=".1f"
      />

      {/* Combined panel */}
      <text x={(LEFT + RIGHT) / 2} y={totTop - 8.3} textAnchor="middle" fontSize={TITLE_FS} fontFamily={FONT} fill="#000">
        Total
      </text>
      <g clipPath="url(#clipTot)">
        {TOTAL_FLARES.map(([a, b], i) => (
          <rect key={i} x={x(a)} y={totTop} width={x(b) - x(a)} height={PANEL_H} fill="#ff0000" fillOpacity={0.5} />
        ))}
        <rect
          x={x(ANTARES_PERIOD[0])}
          y={yTot(1)}
          width={x(ANTARES_PERIOD[1]) - x(ANTARES_PERIOD[0])}
          height={yTot(0) - yTot(1)}
          fill="#008000"
          fillOpacity={0.5}
        />
        <rect
          x={x(ANTARES_PERIOD[0])}
          y={yTot(1)}
          width={x(ANTARES_PERIOD[1]) - x(ANTARES_PERIOD[0])}
          height={yTot(0) - yTot(1)}
          fill="url(#hatchDiag)"
        />
        <rect
          x={x(ORCA6_PERIOD[0])}
          y={yTot(2)}
          width={x(ORCA6_PERIOD[1]) - x(ORCA6_PERIOD[0])}
          height={yTot(1) - yTot(2)}
          fill="#0000ff"
          fillOpacity={0.5}
        />
        <rect
          x={x(ORCA6_PERIOD[0])}
          y={yTot(2)}
          width={x(ORCA6_PERIOD[1]) - x(ORCA6_PERIOD[0])}
          height={yTot(1) - yTot(2)}
          fill="url(#hatchVert)"
        />
        {X_TICKS.map((t) => (
          <line key={t} x1={x(t)} x2={x(t)} y1={totTop} y2={totTop + PANEL_H} stroke="#b0b0b0" strokeWidth={1.1} />
        ))}
        {HESS_RUNS.map((t, i) => (
          <line
            key={i}
            x1={x(t)}
            x2={x(t)}
            y1={yTot(2)}
            y2={yTot(5)}
            stroke="#008000"
            strokeWidth={2.2}
            strokeLinecap="round"
          />
        ))}
      </g>
      <Frame top={totTop} />
      <XAxis top={totTop} labels={true} />
      <text x={(LEFT + RIGHT) / 2} y={747.5} textAnchor="middle" fontSize={TICK_FS} fontFamily={FONT} fill="#000">
        Date (MJD)
      </text>

      <LegendBox x0={51.7} y0={585} w={292.6} h={122.3} />
      <rect x={hx} y={rows[0] - 5.5} width={hw} height={11} fill="#ff0000" fillOpacity={0.5} />
      <LegendText y={rows[0]}>Total flaring periods</LegendText>
      <rect x={hx} y={rows[1] - 5.5} width={hw} height={11} fill="#008000" fillOpacity={0.5} />
      <rect x={hx} y={rows[1] - 5.5} width={hw} height={11} fill="url(#hatchDiag)" />
      <LegendText y={rows[1]}>ANTARES Data taking duration</LegendText>
      <rect x={hx} y={rows[2] - 5.5} width={hw} height={11} fill="#0000ff" fillOpacity={0.5} />
      <rect x={hx} y={rows[2] - 5.5} width={hw} height={11} fill="url(#hatchVert)" />
      <LegendText y={rows[2]}>KM3NeT/ORCA6 duration</LegendText>
      <line x1={hx} x2={hx + hw} y1={rows[3]} y2={rows[3]} stroke="#008000" strokeWidth={2.2} />
      <LegendText y={rows[3]}>HESS runs</LegendText>
      <LegendText y={rows[4]}>{`# HESS runs in flares = ${HESS_IN_FLARES}`}</LegendText>
    </svg>
  );
}
